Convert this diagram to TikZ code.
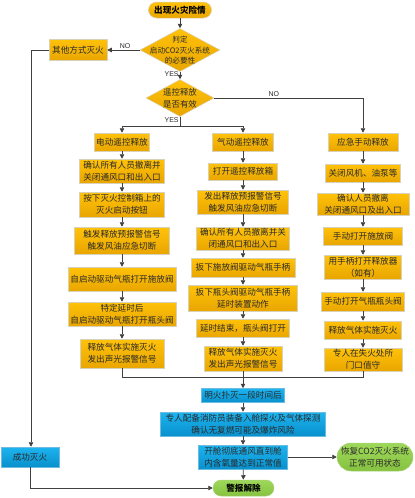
\documentclass[tikz,border=0pt]{standalone}
\usepackage{fontspec}
\newfontfamily\cjk{Noto Sans CJK SC}
\newfontfamily\latfont{Liberation Sans}
\usetikzlibrary{shapes.geometric,arrows.meta}
\definecolor{goldT}{HTML}{FFC20A}
\definecolor{goldB}{HTML}{E9A600}
\definecolor{blueT}{HTML}{1DB4F0}
\definecolor{blueB}{HTML}{0890CC}
\definecolor{greenT}{HTML}{9ED85A}
\definecolor{greenB}{HTML}{86C240}
\definecolor{lineC}{HTML}{404040}
\definecolor{txtC}{HTML}{2A2A2A}
\definecolor{edgeC}{HTML}{D9D2B8}
\tikzset{
  base/.style={inner sep=0pt, align=center, text=txtC, font=\cjk\fontsize{8.6}{12}\selectfont, draw=edgeC, line width=0.5pt},
  gold/.style={base, top color=goldT, bottom color=goldB},
  bluebox/.style={base, top color=blueT, bottom color=blueB, draw=blueB!60!white},
  greenbox/.style={base, top color=greenT, bottom color=greenB, draw=greenB!70!white},
  dia/.style={shape=diamond, inner sep=0pt, top color=goldT, bottom color=goldB, draw=edgeC, line width=0.5pt},
  arr/.style={draw=lineC, line width=0.8pt, -{Triangle[width=4.5pt,length=4.5pt]}},
  ln/.style={draw=lineC, line width=0.8pt},
  yn/.style={font=\latfont\fontsize{7}{8}\selectfont, text=txtC, inner sep=1pt}
}
\begin{document}
\begin{tikzpicture}[x=1pt,y=-1pt]
\useasboundingbox (0,0) rectangle (415,498);
% top
\node[gold, rounded corners=8pt, minimum width=63pt, minimum height=16pt, font=\cjk\bfseries\fontsize{8.6}{10}\selectfont, text=black] (start) at (180,10) {出现火灾险情};
\node[dia, minimum width=80pt, minimum height=43pt] (d1) at (180,50) {};
\node[align=center, inner sep=0pt, text=txtC, font=\cjk\fontsize{7.6}{10.5}\selectfont] (d1t) at (180,50.5) {判定\\启动CO2灭火系统\\的必要性};
\node[gold, minimum width=58pt, minimum height=21pt] (other) at (78,50) {其他方式灭火};
\node[dia, minimum width=68pt, minimum height=37pt] (d2) at (180,98) {};
\node[align=center, inner sep=0pt, text=txtC, font=\cjk\fontsize{8.4}{12}\selectfont] (d2t) at (180,98) {遥控释放\\是否有效};
% left column
\node[gold, minimum width=55pt, minimum height=18pt] (e1) at (122,142) {电动遥控释放};
\node[gold, minimum width=85pt, minimum height=24pt] (e2) at (122,171) {确认所有人员撤离并\\关闭通风口和出入口};
\node[gold, minimum width=85pt, minimum height=25pt] (e3) at (122,204.5) {按下灭火控制箱上的\\灭火启动按钮};
\node[gold, minimum width=95pt, minimum height=27pt] (e4) at (122,240.5) {触发释放预报警信号\\触发风油应急切断};
\node[gold, minimum width=108pt, minimum height=24pt] (e5) at (122,279) {自启动驱动气瓶打开施放阀};
\node[gold, minimum width=108pt, minimum height=24pt] (e6) at (122,314) {特定延时后\\自启动驱动气瓶打开瓶头阀};
\node[gold, minimum width=84pt, minimum height=29pt] (e7) at (122,353.5) {释放气体实施灭火\\发出声光报警信号};
% middle column
\node[gold, minimum width=61pt, minimum height=18pt] (p1) at (243,142) {气动遥控释放};
\node[gold, minimum width=69pt, minimum height=17pt] (p2) at (243,171.5) {打开遥控释放箱};
\node[gold, minimum width=91pt, minimum height=24pt] (p3) at (243,202) {发出释放预报警信号\\触发风油应急切断};
\node[gold, minimum width=93pt, minimum height=23pt] (p4) at (243,238.5) {确认所有人员撤离并关\\闭通风口和出入口};
\node[gold, minimum width=104pt, minimum height=19pt] (p5) at (243,267.5) {扳下施放阀驱动气瓶手柄};
\node[gold, minimum width=109pt, minimum height=26pt] (p6) at (243,298) {扳下瓶头阀驱动气瓶手柄\\延时装置动作};
\node[gold, minimum width=93pt, minimum height=18pt] (p7) at (243,328) {延时结束，瓶头阀打开};
\node[gold, minimum width=78pt, minimum height=25pt] (p8) at (243,358.5) {释放气体实施灭火\\发出声光报警信号};
% right column
\node[gold, minimum width=70pt, minimum height=18pt] (m1) at (363,142) {应急手动释放};
\node[gold, minimum width=75pt, minimum height=18pt] (m2) at (363,173) {关闭风机、油泵等};
\node[gold, minimum width=92pt, minimum height=22pt] (m3) at (363,204) {确认人员撤离\\关闭通风口及出入口};
\node[gold, minimum width=79pt, minimum height=18pt] (m4) at (363,236) {手动打开施放阀};
\node[gold, minimum width=77pt, minimum height=24pt] (m5) at (363,267) {用手柄打开释放器\\（如有）};
\node[gold, minimum width=83pt, minimum height=19pt] (m6) at (363,301.5) {手动打开气瓶瓶头阀};
\node[gold, minimum width=77pt, minimum height=18pt] (m7) at (363,330) {释放气体实施灭火};
\node[gold, minimum width=78pt, minimum height=23pt] (m8) at (363,359.5) {专人在失火处所\\门口值守};
% bottom
\node[bluebox, minimum width=83pt, minimum height=14pt] (b1) at (243,395.5) {明火扑灭一段时间后};
\node[bluebox, minimum width=165pt, minimum height=24pt] (b2) at (243,424) {专人配备消防员装备入舱探火及气体探测\\确认无复燃可能及爆炸风险};
\node[bluebox, minimum width=89pt, minimum height=24pt] (b3) at (243,457) {开舱彻底通风直到舱\\内含氧量达到正常值};
\node[greenbox, rounded corners=14pt, minimum width=76pt, minimum height=28pt] (restore) at (375,457) {恢复CO2灭火系统\\正常可用状态};
\node[greenbox, rounded corners=8pt, minimum width=61pt, minimum height=16pt, font=\cjk\bfseries\fontsize{8.6}{10}\selectfont, text=black] (alarm) at (243.5,488) {警报解除};
\node[bluebox, minimum width=58pt, minimum height=20pt] (success) at (30,457) {成功灭火};
% connectors
\draw[arr] (start) -- (d1);
\draw[arr] (d1.west) -- node[yn, above, pos=0.45] (nol) {NO} (other.east);
\coordinate (ocorner) at (31,50);
\draw[ln] (other.west) -- (ocorner);
\draw[arr] (ocorner) -- (success.north -| ocorner);
\draw[arr] (d1.south) -- node[yn, left, pos=0.3] (yes1) {YES} (d2.north);
\coordinate (ysplit) at (180,126);
\draw[ln] (d2.south) -- node[yn, left, pos=0.35] (yes2) {YES} (ysplit);
\draw[arr] (ysplit) -| (e1.north);
\draw[arr] (ysplit) -| (p1.north);
\draw[arr] (d2.east) -| node[yn, above, pos=0.2] (no2) {NO} (m1.north);
\foreach \a/\b in {e1/e2,e2/e3,e3/e4,e4/e5,e5/e6,e6/e7,p1/p2,p2/p3,p3/p4,p4/p5,p5/p6,p6/p7,p7/p8,m1/m2,m2/m3,m3/m4,m4/m5,m5/m6,m6/m7,m7/m8}
  \draw[arr] (\a) -- (\b);
\coordinate (join) at (243,377);
\draw[ln] (e7.south) |- (join);
\draw[ln] (m8.south) |- (join);
\draw[arr] (p8.south) -- (b1.north);
\draw[arr] (b1) -- (b2);
\draw[arr] (b2) -- (b3);
\draw[arr] (b3) -- (alarm);
\draw[arr] (b3.east) -- (restore.west);
\draw[arr] (success.south) |- (alarm.west);
\end{tikzpicture}
\end{document}
